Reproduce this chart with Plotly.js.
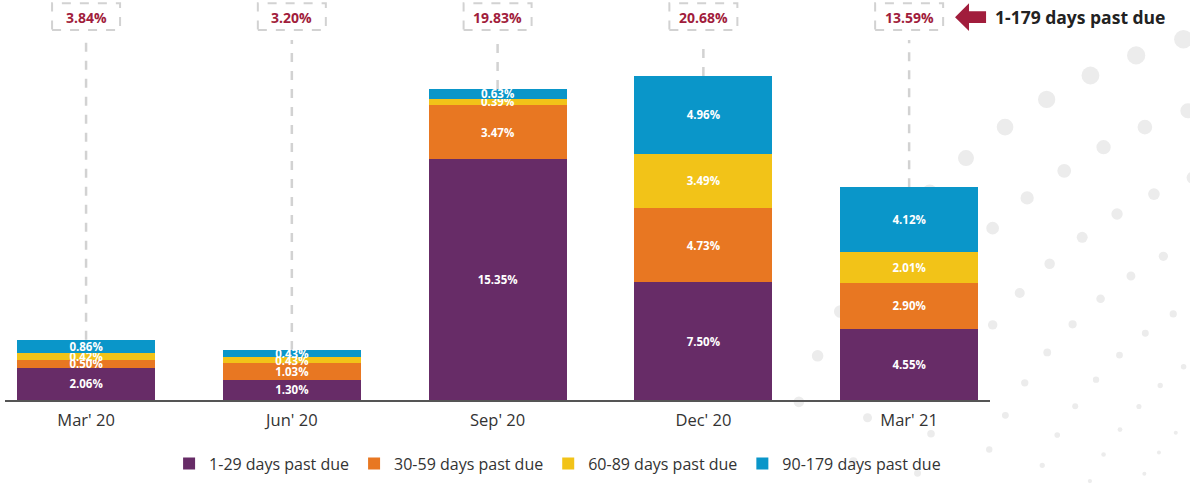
<!DOCTYPE html>
<html>
<head>
<meta charset="utf-8">
<script src="https://cdn.plot.ly/plotly-3.0.1.min.js"></script>
<style>html,body{margin:0;padding:0;background:#fff;}#chart{width:1190px;height:486px;}</style>
</head>
<body>
<div id="chart"></div>
<script>
const categories = ["Mar' 20", "Jun' 20", "Sep' 20", "Dec' 20", "Mar' 21"];
const d1_29 = [2.06, 1.30, 15.35, 7.50, 4.55];
const d30_59 = [0.50, 1.03, 3.47, 4.73, 2.90];
const d60_89 = [0.42, 0.43, 0.39, 3.49, 2.01];
const d90_179 = [0.86, 0.43, 0.63, 4.96, 4.12];
const totals = ["3.84%", "3.20%", "19.83%", "20.68%", "13.59%"];
const seriesNames = ["1-29 days past due", "30-59 days past due", "60-89 days past due", "90-179 days past due"];
const colors = ["#672C67", "#E87722", "#F2C318", "#0A96C9"];

const W = 1190, H = 486;
const M = {l: 5, r: 200, t: 40, b: 84};
const PW = W - M.l - M.r, PH = H - M.t - M.b;
const yMax = 22.97;
const boxBottom = 1.0276, boxTop = 1.102, labelY = 1.0635;

const seriesVals = [d1_29, d30_59, d60_89, d90_179];
const traces = seriesVals.map((vals, i) => ({
  type: 'bar',
  x: categories,
  y: vals,
  name: seriesNames[i],
  marker: {color: colors[i], line: {width: 0}},
  texttemplate: '%{y:.2f}%',
  textposition: 'inside',
  insidetextanchor: 'middle',
  constraintext: 'none',
  textfont: {family: 'Open Sans', size: 11.5, color: '#ffffff', weight: 700},
  hoverinfo: 'none'
}));

const sums = categories.map((c, i) => seriesVals.reduce((s, v) => s + v[i], 0));

const shapes = [];
const annotations = [];

// decorative background dot pattern (not data)
const px2x = p => (p - M.l) / PW, px2y = p => (M.t + PH - p) / PH;
const cx = 1350, cy = 600;
[585, 515, 450, 390, 335, 285, 240].forEach((R, k) => {
  const step = 50 - k * 4;
  const n = Math.floor((Math.PI / 2 * R) / step);
  for (let j = 0; j <= n; j++) {
    const a = Math.PI + j * step / R;
    const x = cx + R * Math.cos(a), y = cy + R * Math.sin(a);
    if (x < 790 || y > 486 || y < 30 || x > 1195) continue;
    const rad = Math.max(2, (R / 60) * (0.45 + 0.55 * (1 - y / 486)) );
    shapes.push({type: 'circle', xref: 'paper', yref: 'paper', xsizemode: 'pixel', ysizemode: 'pixel',
      xanchor: px2x(x), yanchor: px2y(y), x0: -rad, x1: rad, y0: -rad, y1: rad,
      fillcolor: '#ececec', line: {width: 0}, layer: 'below'});
  }
});

categories.forEach((c, i) => {
  shapes.push({type: 'line', xref: 'x', yref: 'y', x0: c, x1: c, y0: sums[i], y1: yMax * boxBottom,
    line: {color: '#d2d2d2', width: 2.5, dash: 'dash'}, layer: 'below'});
  shapes.push({type: 'rect', xref: 'x', yref: 'paper', xsizemode: 'pixel', xanchor: c, x0: -34, x1: 34,
    y0: boxBottom, y1: boxTop, line: {color: '#d2d2d2', width: 2, dash: 'dash'}, fillcolor: '#ffffff'});
  annotations.push({xref: 'x', yref: 'paper', x: c, y: labelY, text: '<b>' + totals[i] + '</b>', showarrow: false,
    font: {family: 'Open Sans', size: 14, color: '#A11D3C'}, yanchor: 'middle'});
});
// arrow marker pointing at the last total
shapes.push({type: 'path', xref: 'paper', yref: 'paper',
  path: 'M 0.9645 1.0635 L 0.9787 1.0248 L 0.9787 1.047 L 0.9960 1.047 L 0.9960 1.080 L 0.9787 1.080 L 0.9787 1.102 Z',
  fillcolor: '#A11D3C', line: {width: 0}});
annotations.push({xref: 'paper', yref: 'paper', x: 1.0035, y: labelY, xanchor: 'left', yanchor: 'middle', showarrow: false,
  text: '<b>1-179 days past due</b>', font: {family: 'Open Sans', size: 17.5, color: '#222222'}});

const layout = {
  width: W, height: H,
  barmode: 'stack',
  bargap: 0.33,
  margin: M,
  paper_bgcolor: '#ffffff', plot_bgcolor: 'rgba(0,0,0,0)',
  font: {family: 'Open Sans', color: '#333333'},
  xaxis: {type: 'category', range: [-0.394, 4.393], showline: true, linecolor: '#555555', linewidth: 2,
    ticks: 'outside', ticklen: 4, tickcolor: 'rgba(0,0,0,0)', tickfont: {size: 16.5, color: '#333333'}, showgrid: false, zeroline: false, fixedrange: true},
  yaxis: {range: [0, yMax], visible: false, showgrid: false, zeroline: false, fixedrange: true},
  showlegend: true,
  legend: {orientation: 'h', x: 0.561, xanchor: 'center', y: -0.177, yanchor: 'middle', bgcolor: 'rgba(0,0,0,0)',
    font: {size: 16, color: '#333333'}, itemwidth: 30, traceorder: 'normal'},
  shapes: shapes,
  annotations: annotations
};

Plotly.newPlot('chart', traces, layout, {displayModeBar: false, staticPlot: true});
</script>
</body>
</html>
